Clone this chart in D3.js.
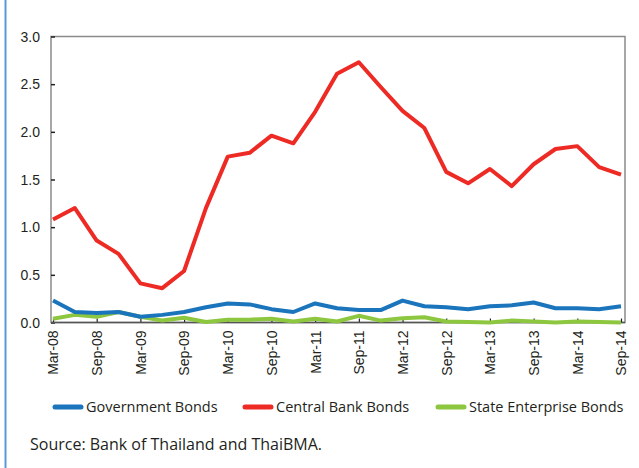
<!DOCTYPE html>
<html>
<head>
<meta charset="utf-8">
<script src="https://cdn.jsdelivr.net/npm/d3@7/dist/d3.min.js"></script>
<style>
  html, body { margin: 0; padding: 0; background: #fff; }
  svg { display: block; font-family: "Open Sans", "DejaVu Sans", sans-serif; }
</style>
</head>
<body>
<svg id="chart" width="639" height="468"></svg>
<script>
// Quarterly periods, Mar-08 to Sep-14
const periods = ["Mar-08","Jun-08","Sep-08","Dec-08","Mar-09","Jun-09","Sep-09","Dec-09",
  "Mar-10","Jun-10","Sep-10","Dec-10","Mar-11","Jun-11","Sep-11","Dec-11",
  "Mar-12","Jun-12","Sep-12","Dec-12","Mar-13","Jun-13","Sep-13","Dec-13",
  "Mar-14","Jun-14","Sep-14"];

const governmentBonds = [0.23,0.11,0.10,0.11,0.06,0.08,0.11,0.16,0.20,0.19,0.14,0.11,
  0.20,0.15,0.13,0.13,0.23,0.17,0.16,0.14,0.17,0.18,0.21,0.15,0.15,0.14,0.17];

const centralBankBonds = [1.08,1.20,0.86,0.72,0.41,0.36,0.54,1.20,1.74,1.78,1.96,1.88,
  2.21,2.61,2.73,2.47,2.22,2.04,1.58,1.46,1.61,1.43,1.66,1.82,1.85,1.63,1.55];

const stateEnterpriseBonds = [0.04,0.08,0.06,0.11,0.06,0.02,0.05,0.005,0.03,0.03,0.04,0.01,
  0.04,0.01,0.07,0.02,0.045,0.055,0.01,0.005,0.0,0.02,0.01,0.0,0.01,0.005,0.0];

const yTicks = [0, 0.5, 1.0, 1.5, 2.0, 2.5, 3.0];
const xTickLabels = periods.filter((d, i) => i % 2 === 0);

const seriesNames = ["Government Bonds", "Central Bank Bonds", "State Enterprise Bonds"];
const seriesColors = ["#1a75bc", "#ee2a24", "#8dc63f"];
const seriesValues = [governmentBonds, centralBankBonds, stateEnterpriseBonds];

const svg = d3.select("#chart");

// Left accent rule of the panel
svg.append("line")
  .attr("x1", 5.5).attr("x2", 5.5).attr("y1", 0).attr("y2", 468)
  .attr("stroke", "#5a9ad8").attr("stroke-width", 2);

const frame = { left: 51, right: 625, top: 36.5, bottom: 322.5 };

const x = d3.scalePoint()
  .domain(periods)
  .range([53, 621]);

const y = d3.scaleLinear()
  .domain([0, 3])
  .range([frame.bottom, frame.top]);

// Plot frame
svg.append("rect")
  .attr("x", frame.left).attr("y", frame.top)
  .attr("width", frame.right - frame.left)
  .attr("height", frame.bottom - frame.top)
  .attr("fill", "none")
  .attr("stroke", "#8a8a8a")
  .attr("stroke-width", 1.5);

// Y axis with inward ticks
const yAxis = d3.axisRight(y)
  .tickValues(yTicks)
  .tickFormat(d3.format(".1f"))
  .tickSize(4)
  .tickPadding(0);

const gy = svg.append("g")
  .attr("transform", `translate(${frame.left},0)`)
  .call(yAxis);
gy.select(".domain").remove();
gy.selectAll(".tick line").attr("stroke", "#222").attr("stroke-width", 1.5);
gy.selectAll(".tick text")
  .attr("x", -11)
  .attr("dy", "0.34em")
  .attr("text-anchor", "end")
  .attr("fill", "#231f20")
  .style("font-size", "14px");

// X axis with inward ticks and rotated labels
const xAxis = d3.axisTop(x)
  .tickValues(xTickLabels)
  .tickSize(4)
  .tickPadding(0);

const gx = svg.append("g")
  .attr("transform", `translate(0,${frame.bottom})`)
  .call(xAxis);
gx.select(".domain").remove();
gx.selectAll(".tick line").attr("stroke", "#222").attr("stroke-width", 1.2);
gx.selectAll(".tick text")
  .attr("transform", "rotate(-90)")
  .attr("x", -8)
  .attr("y", 0)
  .attr("dy", "0.35em")
  .attr("text-anchor", "end")
  .attr("fill", "#231f20")
  .style("font-size", "14px");

// Bottom axis line over the frame
svg.append("line")
  .attr("x1", frame.left).attr("x2", frame.right)
  .attr("y1", frame.bottom).attr("y2", frame.bottom)
  .attr("stroke", "#555").attr("stroke-width", 1.5);

// Series lines
const line = d3.line()
  .x((d, i) => x(periods[i]))
  .y(d => y(d));

// Draw order: green, blue, red on top
[2, 0, 1].forEach(k => {
  svg.append("path")
    .datum(seriesValues[k])
    .attr("d", line)
    .attr("fill", "none")
    .attr("stroke", seriesColors[k])
    .attr("stroke-width", 4)
    .attr("stroke-linejoin", "round");
});

// Legend
const legendX = [55, 245, 438];
const legend = svg.append("g").attr("transform", "translate(0,407)");
seriesNames.forEach((name, k) => {
  legend.append("line")
    .attr("x1", legendX[k]).attr("x2", legendX[k] + 26)
    .attr("y1", 0).attr("y2", 0)
    .attr("stroke", seriesColors[k])
    .attr("stroke-width", 5)
    .attr("stroke-linecap", "round");
  legend.append("text")
    .attr("x", legendX[k] + 31)
    .attr("y", 0)
    .attr("dy", "0.35em")
    .attr("fill", "#231f20")
    .style("font-size", "14.5px")
    .text(name);
});

// Source note
svg.append("text")
  .attr("x", 30).attr("y", 444)
  .attr("dy", "0.35em")
  .attr("fill", "#231f20")
  .style("font-size", "16px")
  .text("Source: Bank of Thailand and ThaiBMA.");
</script>
</body>
</html>
